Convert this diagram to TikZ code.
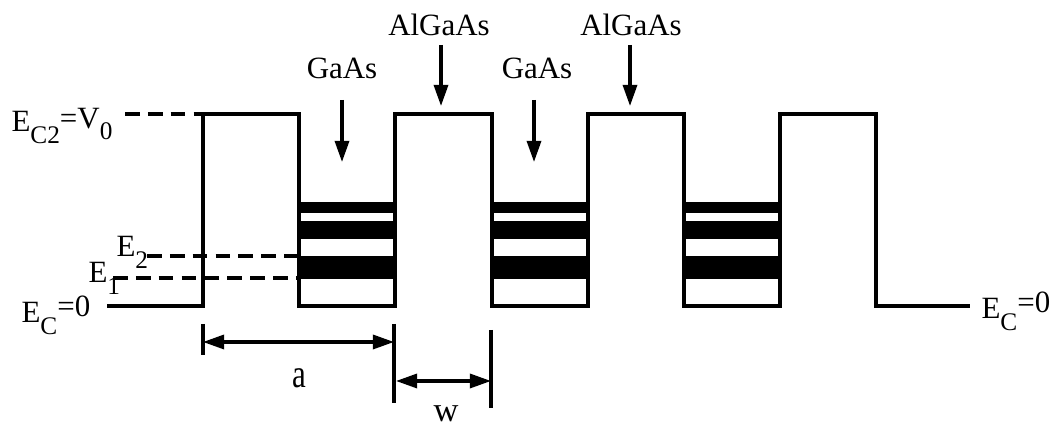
\documentclass[tikz,border=0pt]{standalone}
\usepackage{fontspec}
\setmainfont{Liberation Serif}
\usepackage{tikz}
\usetikzlibrary{arrows.meta,positioning,calc}
\newcommand{\lo}[1]{\raisebox{-0.36em}{\fontsize{7.2}{8}\selectfont #1}}

\begin{document}
\begin{tikzpicture}[x=0.01cm,y=-0.01cm,>={Triangle[length=6pt,width=4pt]},
  line width=0.9pt,font=\fontsize{8.8}{10.5}\selectfont,
  lbl/.style={inner sep=0pt},
  lev/.style={dash pattern=on 4.2pt off 2.3pt}]
\useasboundingbox (0,0) rectangle (1054,428);
% bands in the wells
\foreach \x in {299,492,684} {
  \fill (\x,202) rectangle (\x+96,213);
  \fill (\x,221) rectangle (\x+96,239);
  \fill (\x,256) rectangle (\x+96,279);
}
% conduction band profile
\coordinate (left) at (107,306);
\coordinate (right) at (970,306);
\draw (left) -- (203,306) -- (203,114) -- (299,114) -- (299,306)
  -- (395,306) -- (395,114) -- (492,114) -- (492,306)
  -- (588,306) -- (588,114) -- (684,114) -- (684,306)
  -- (780,306) -- (780,114) -- (876,114) -- (876,306) -- (right);
% levels
\node[lbl,anchor=base east] (ec2) at (114,132) {E\lo{C2}\raisebox{0.12em}{=V\lo{0}}};
\node[lbl,anchor=base west] (e2) at (115,257) {E\lo{2}};
\node[lbl,anchor=base west] (e1) at (87,283) {E\lo{1}};
\node[lbl,anchor=base west] (ecl) at (20,323) {E\lo{C}\raisebox{0.2em}{=0}};
\node[lbl,anchor=base west] (ecr) at (980,319) {E\lo{C}\raisebox{0.2em}{=0}};
\draw[lev] (125,114) -- (203,114);
\draw[lev] (147,256) -- (299,256);
\draw[lev] (113,278) -- (299,278);
% materials
\node (gaas1) at (342,68) {GaAs};
\node (gaas2) at (537,68) {GaAs};
\node (algaas1) at (439,25) {AlGaAs};
\node (algaas2) at (631,25) {AlGaAs};
\draw[->] (342,100) -- (342,162);
\draw[->] (534,100) -- (534,162);
\draw[->] (441,45) -- (441,106);
\draw[->] (630,45) -- (630,106);
% dimensions
\draw (203,324) -- (203,355);
\draw (394,324) -- (394,403);
\draw (491,330) -- (491,408);
\draw[<->] (203,342) -- (394,342);
\draw[<->] (396,381) -- (491,381);
\node (a) at (299,378) {\scalebox{1}[1.3]{a}};
\node (w) at (446,414) {\fontsize{9.8}{11}\selectfont w};
\end{tikzpicture}
\end{document}
